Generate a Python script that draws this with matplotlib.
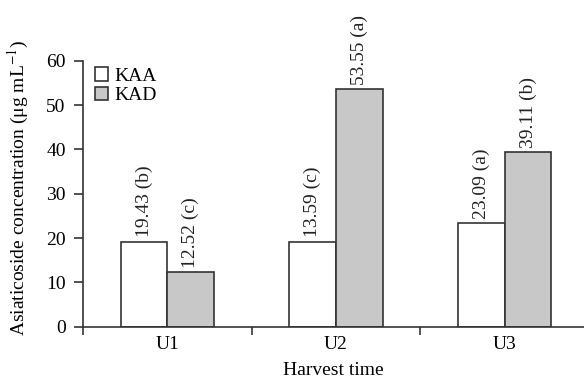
import matplotlib
matplotlib.use("Agg")
import matplotlib.pyplot as plt
import numpy as np

categories = ["U1", "U2", "U3"]
kaa_heights = [19.2, 19.2, 23.3]
kad_heights = [12.3, 53.55, 39.4]
kaa_labels = ["19.43 (b)", "13.59 (c)", "23.09 (a)"]
kad_labels = ["12.52 (c)", "53.55 (a)", "39.11 (b)"]
yticks = [0, 10, 20, 30, 40, 50, 60]

plt.rcParams['font.family'] = ['Liberation Serif', 'DejaVu Serif']
plt.rcParams['mathtext.fontset'] = 'stix'

fs = 14
fig = plt.figure(figsize=(5.84, 3.85), dpi=100)
ax = fig.add_axes([83/584, 1-326.7/385, (584-83)/584, (326.7-60.7)/385])

ec = '#333333'
x = np.arange(len(categories))
w = 0.277
b1 = ax.bar(x - w/2, kaa_heights, w, color='white', edgecolor=ec, linewidth=1.2, label='KAA', zorder=2)
b2 = ax.bar(x + w/2, kad_heights, w, color='#c8c8c8', edgecolor=ec, linewidth=1.2, label='KAD', zorder=2)

for bars, labs in ((b1, kaa_labels), (b2, kad_labels)):
    for r, t in zip(bars, labs):
        ax.annotate(t, (r.get_x() + r.get_width()/2, r.get_height()),
                    xytext=(0, 3), textcoords='offset points',
                    rotation=90, ha='center', va='bottom', fontsize=fs, color='#222222')

ax.set_xlim(-0.5, 2.47)
ax.set_ylim(0, 60)
ax.set_yticks(yticks)
ax.set_xticks([-0.5, 0.5, 1.5])
ax.set_xticklabels([])
ax.set_xticks(x, minor=True)
ax.set_xticklabels(categories, minor=True)
ax.tick_params(axis='x', which='minor', length=0, pad=7, labelsize=fs)
ax.tick_params(axis='x', which='major', length=6, width=1.2, color=ec, direction='out')
ax.tick_params(axis='y', length=6.5, width=1.2, color=ec, direction='out', labelsize=fs, pad=6)

for s in ['top', 'right']:
    ax.spines[s].set_visible(False)
for s in ['left', 'bottom']:
    ax.spines[s].set_color(ec)
    ax.spines[s].set_linewidth(1.2)

ax.set_xlabel("Harvest time", fontsize=fs, labelpad=6)
ax.set_ylabel(r"Asiaticoside concentration ($\mathregular{\mu}$g mL$^{-1}$)", fontsize=fs)
ax.yaxis.set_label_coords(-0.104, 0.52)

ax.legend(loc='upper left', bbox_to_anchor=(0.0, 1.02), frameon=False, fontsize=fs,
          handlelength=0.7, handleheight=0.7, handletextpad=0.3, labelspacing=0.1,
          borderaxespad=0.2)

fig.savefig("out.png", dpi=100)
